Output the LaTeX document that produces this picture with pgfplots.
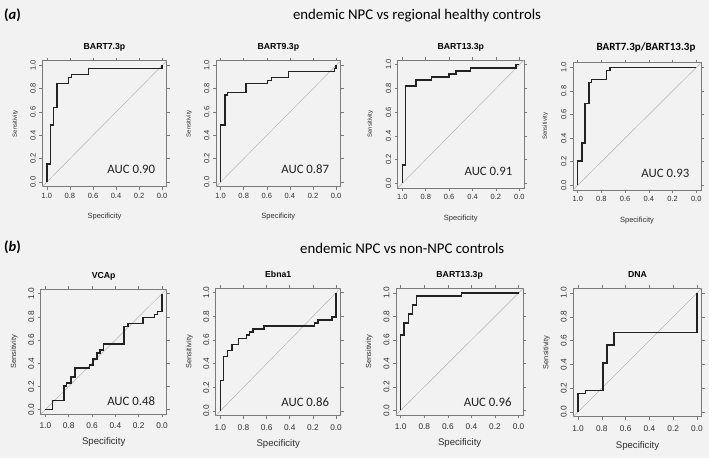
\documentclass[border=0pt]{standalone}
\usepackage{pgfplots}
\pgfplotsset{compat=1.18}
\usepackage{fontspec}
\setmainfont{Liberation Sans}
\newfontfamily\calibri{Carlito}
\definecolor{bg}{HTML}{F2F2F2}
\definecolor{boxgray}{HTML}{7A7A7A}
\definecolor{tickgray}{HTML}{2E2E2E}
\definecolor{curvecol}{HTML}{222222}
\definecolor{diaggray}{HTML}{B4B4B4}
\pgfplotsset{
 roc/.style={scale only axis, anchor=north west,
  xmin=0,xmax=1,ymin=0,ymax=1, enlargelimits=0.04, x dir=reverse,
  axis line style={draw=boxgray,line width=0.7pt},
  xtick={0,0.2,0.4,0.6,0.8,1}, ytick={0,0.2,0.4,0.6,0.8,1},
  tick align=outside, major tick length=3pt,
  tick style={draw=boxgray,line width=0.6pt},
  xticklabel style={text=tickgray},
  yticklabel style={rotate=90,anchor=south,text=tickgray},
  /pgf/number format/.cd, fixed, fixed zerofill, precision=1, assume math mode=true, /pgfplots/.cd,
  title style={font=\bfseries\fontsize{8.7}{10}\selectfont, at={(axis description cs:0.5,1)}, anchor=base, yshift=5pt},
  xlabel=Specificity, ylabel=Sensitivity,
  xlabel style={text=tickgray}, ylabel style={text=tickgray}},
 rowa/.style={tick label style={font=\fontsize{7.5}{9}\selectfont},
  xlabel style={font=\fontsize{7.5}{9}\selectfont, at={(axis description cs:0.5,-0.238)}, anchor=center},
  ylabel style={font=\fontsize{6}{7}\selectfont, at={(axis description cs:-0.216,0.5)}, anchor=center}},
 rowb/.style={tick label style={font=\fontsize{8.3}{10}\selectfont}, xticklabel shift=2pt,
  xlabel style={font=\fontsize{9.6}{11}\selectfont, at={(axis description cs:0.5,-0.225)}, anchor=center},
  ylabel style={font=\fontsize{7.4}{9}\selectfont, at={(axis description cs:-0.21,0.5)}, anchor=center}},
 roccurve/.style={draw=curvecol, line width=1.5pt, line join=miter, no markers},
 diag/.style={draw=diaggray, line width=0.5pt, no markers},
}
\newcommand{\auc}[2]{\node[anchor=base east, font=\calibri\fontsize{12.8}{15}\selectfont, text=curvecol] at (axis description cs:0.936,#1) {AUC #2};}
\begin{document}
\begin{tikzpicture}
\useasboundingbox (0,0) rectangle (709pt,-458pt);
\fill[bg] (0,0) rectangle (709pt,-458pt);
\node[anchor=west, inner sep=0pt, font=\calibri\bfseries\fontsize{14.5}{16}\selectfont] at (4pt,-15.7pt) {(\textit{a})};
\node[anchor=west, inner sep=0pt, font=\calibri\bfseries\fontsize{14.5}{16}\selectfont] at (4pt,-247.7pt) {(\textit{b})};
\node[font=\calibri\fontsize{14.8}{17}\selectfont] at (417pt,-16pt) {endemic NPC vs regional healthy controls};
\node[anchor=west, inner sep=0pt, font=\calibri\fontsize{14.8}{17}\selectfont] at (300pt,-248pt) {endemic NPC vs non-NPC controls};

% ---------- row a
\begin{axis}[roc, rowa, at={(42.3pt,-60.7pt)}, width=124.4pt, height=126pt, title={BART7.3p}]
\addplot[diag] coordinates {(1.04,-0.04) (-0.04,1.04)};
\addplot[roccurve] coordinates {(1,0) (1,0.154) (0.969,0.154) (0.969,0.487) (0.943,0.487) (0.943,0.641) (0.912,0.641) (0.912,0.846) (0.813,0.846) (0.813,0.897) (0.788,0.897) (0.788,0.923) (0.637,0.923) (0.637,0.974) (0,0.974) (0,1)};
\auc{0.105}{0.90}
\end{axis}

\begin{axis}[roc, rowa, at={(216pt,-60.7pt)}, width=124.7pt, height=126pt, title={BART9.3p}]
\addplot[diag] coordinates {(1.04,-0.04) (-0.04,1.04)};
\addplot[roccurve] coordinates {(1,0) (1,0.487) (0.962,0.487) (0.962,0.744) (0.942,0.744) (0.942,0.769) (0.78,0.769) (0.78,0.846) (0.592,0.846) (0.592,0.872) (0.558,0.872) (0.558,0.897) (0.413,0.897) (0.413,0.949) (0.015,0.949) (0.015,0.974) (0,0.974) (0,1)};
\auc{0.105}{0.87}
\end{axis}

\begin{axis}[roc, rowa, at={(397.7pt,-60pt)}, width=126.3pt, height=128pt, title={BART13.3p}]
\addplot[diag] coordinates {(1.04,-0.04) (-0.04,1.04)};
\addplot[roccurve] coordinates {(1,0) (1,0.154) (0.972,0.154) (0.972,0.821) (0.882,0.821) (0.882,0.872) (0.752,0.872) (0.752,0.897) (0.6,0.897) (0.6,0.923) (0.541,0.923) (0.541,0.949) (0.417,0.949) (0.417,0.974) (0.028,0.974) (0.028,1) (0,1)};
\auc{0.1}{0.91}
\end{axis}

\begin{axis}[roc, rowa, at={(573pt,-62.7pt)}, width=128pt, height=127.3pt, title={BART7.3p/BART13.3p},
  title style={font=\calibri\bfseries\fontsize{11}{13}\selectfont, xshift=9pt, yshift=1pt}]
\addplot[diag] coordinates {(1.04,-0.04) (-0.04,1.04)};
\addplot[roccurve] coordinates {(1,0) (1,0.205) (0.966,0.205) (0.966,0.359) (0.938,0.359) (0.938,0.692) (0.905,0.692) (0.905,0.872) (0.882,0.872) (0.882,0.897) (0.756,0.897) (0.756,0.974) (0.728,0.974) (0.728,1) (0,1)};
\auc{0.1}{0.93}
\end{axis}

% ---------- row b
\begin{axis}[roc, rowb, at={(40.7pt,-289pt)}, width=126pt, height=125.3pt, title={VCAp}]
\addplot[diag] coordinates {(1.04,-0.04) (-0.04,1.04)};
\addplot[roccurve] coordinates {(1,0) (0.937,0) (0.937,0.077) (0.84,0.077) (0.84,0.205) (0.817,0.205) (0.817,0.231) (0.78,0.231) (0.78,0.282) (0.745,0.282) (0.745,0.359) (0.622,0.359) (0.622,0.385) (0.593,0.385) (0.593,0.436) (0.559,0.436) (0.559,0.487) (0.53,0.487) (0.53,0.513) (0.5,0.513) (0.5,0.564) (0.324,0.564) (0.324,0.718) (0.29,0.718) (0.29,0.744) (0.163,0.744) (0.163,0.795) (0.066,0.795) (0.066,0.821) (0.037,0.821) (0.037,0.846) (0,0.846) (0,1)};
\auc{0.07}{0.48}
\end{axis}

\begin{axis}[roc, rowb, at={(215.7pt,-288pt)}, width=125pt, height=127.7pt, title={Ebna1}]
\addplot[diag] coordinates {(1.04,-0.04) (-0.04,1.04)};
\addplot[roccurve] coordinates {(1,0) (1,0.256) (0.971,0.256) (0.971,0.462) (0.936,0.462) (0.936,0.513) (0.901,0.513) (0.901,0.564) (0.843,0.564) (0.843,0.615) (0.776,0.615) (0.776,0.641) (0.747,0.641) (0.747,0.667) (0.718,0.667) (0.718,0.692) (0.622,0.692) (0.622,0.718) (0.186,0.718) (0.186,0.744) (0.157,0.744) (0.157,0.769) (0.035,0.769) (0.035,0.795) (0,0.795) (0,1)};
\auc{0.07}{0.86}
\end{axis}

\begin{axis}[roc, rowb, at={(396pt,-288.3pt)}, width=127.3pt, height=126.7pt, title={BART13.3p}]
\addplot[diag] coordinates {(1.04,-0.04) (-0.04,1.04)};
\addplot[roccurve] coordinates {(1,0) (1,0.641) (0.972,0.641) (0.972,0.744) (0.936,0.744) (0.936,0.821) (0.902,0.821) (0.902,0.897) (0.866,0.897) (0.866,0.974) (0.483,0.974) (0.483,1) (0,1)};
\auc{0.07}{0.96}
\end{axis}

\begin{axis}[roc, rowb, at={(573.3pt,-288.3pt)}, width=128.4pt, height=128.4pt, title={DNA}]
\addplot[diag] coordinates {(1.04,-0.04) (-0.04,1.04)};
\addplot[roccurve] coordinates {(1,0) (1,0.154) (0.938,0.154) (0.938,0.18) (0.789,0.18) (0.789,0.41) (0.755,0.41) (0.755,0.564) (0.696,0.564) (0.696,0.667) (0,0.667) (0,1)};
\end{axis}
\end{tikzpicture}
\end{document}
